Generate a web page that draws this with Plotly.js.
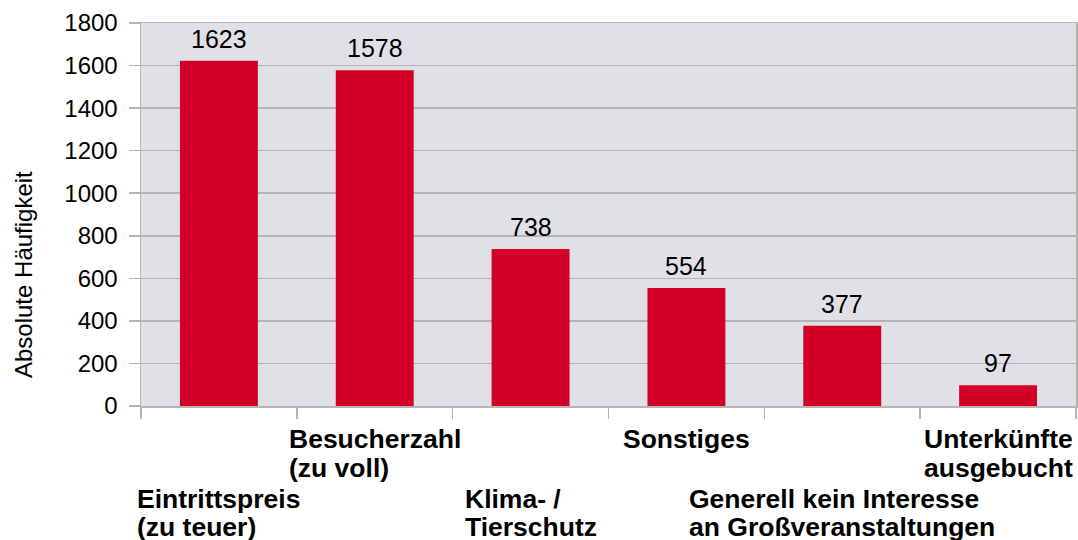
<!DOCTYPE html>
<html>
<head>
<meta charset="utf-8">
<script src="https://cdn.plot.ly/plotly-3.0.1.min.js"></script>
<style>html,body{margin:0;padding:0;background:#fff;}#chart{width:1078px;height:540px;}</style>
</head>
<body>
<div id="chart"></div>
<script>
const categories = [
  "Eintrittspreis (zu teuer)",
  "Besucherzahl (zu voll)",
  "Klima- / Tierschutz",
  "Sonstiges",
  "Generell kein Interesse an Großveranstaltungen",
  "Unterkünfte ausgebucht"
];
const categoryLines = [
  ["Eintrittspreis", "(zu teuer)"],
  ["Besucherzahl", "(zu voll)"],
  ["Klima- /", "Tierschutz"],
  ["Sonstiges"],
  ["Generell kein Interesse", "an Großveranstaltungen"],
  ["Unterkünfte", "ausgebucht"]
];
const values = [1623, 1578, 738, 554, 377, 97];
const labelRow = [1, 0, 1, 0, 1, 0]; // 0 = upper row, 1 = lower row
const yTickVals = [0, 200, 400, 600, 800, 1000, 1200, 1400, 1600, 1800];
const yTitle = "Absolute Häufigkeit";

const FONT = "Liberation Sans, Arial, sans-serif";
const gridColor = "#b4b4b4";
const catFontSize = 26.5;

const trace = {
  type: "bar",
  x: categories,
  y: values,
  width: 0.5,
  marker: {color: "#d20028", line: {width: 0}},
  hoverinfo: "none"
};

// measure text to left-align lines within a centred block
const cv = document.createElement("canvas").getContext("2d");
cv.font = "bold " + catFontSize + "px 'Liberation Sans', Arial, sans-serif";

const rowShifts = [[-17, -46], [-77, -105]];

const annotations = [];
values.forEach((v, i) => {
  annotations.push({
    x: categories[i], y: v, xref: "x", yref: "y",
    text: String(v), showarrow: false, yanchor: "bottom", yshift: 6,
    font: {family: FONT, size: 25, color: "#000"}
  });
});
categories.forEach((c, i) => {
  const lines = categoryLines[i];
  const blockW = Math.max(...lines.map(l => cv.measureText(l).width));
  lines.forEach((l, j) => {
    annotations.push({
      x: c, xref: "x", y: 0, yref: "paper",
      text: "<b>" + l + "</b>", showarrow: false,
      xanchor: "left", yanchor: "top",
      xshift: -blockW / 2 - 1,
      yshift: rowShifts[labelRow[i]][j],
      borderpad: 0,
      font: {family: FONT, size: catFontSize, color: "#000"}
    });
  });
});
annotations.push({
  x: 0, xref: "paper", xshift: -118, xanchor: "center",
  y: 0.342, yref: "paper", yanchor: "middle",
  text: yTitle, textangle: -90, showarrow: false,
  font: {family: FONT, size: 24, color: "#000"}
});

const layout = {
  width: 1078, height: 540,
  margin: {l: 141, r: 2, t: 23, b: 134, pad: 0},
  paper_bgcolor: "#ffffff",
  plot_bgcolor: "#e0e1e6",
  showlegend: false,
  font: {family: FONT, color: "#000"},
  xaxis: {
    type: "category",
    range: [-0.5, categories.length - 0.5],
    autorange: false,
    automargin: false,
    tickson: "boundaries",
    ticks: "outside", ticklen: 11, tickcolor: gridColor, tickwidth: 1.5,
    showticklabels: false,
    showgrid: false,
    showline: true, linecolor: gridColor, linewidth: 1.5, mirror: true,
    zeroline: false,
    fixedrange: true
  },
  yaxis: {
    range: [0, 1800],
    autorange: false,
    automargin: false,
    tickvals: yTickVals,
    ticks: "outside", ticklen: 11, tickcolor: gridColor, tickwidth: 1.5,
    tickfont: {family: FONT, size: 24, color: "#000"},
    ticklabelstandoff: 6,
    showgrid: true, gridcolor: gridColor, gridwidth: 1.5,
    showline: true, linecolor: gridColor, linewidth: 1.5, mirror: true,
    zeroline: false,
    fixedrange: true
  },
  annotations: annotations
};

Plotly.newPlot("chart", [trace], layout, {displayModeBar: false, staticPlot: true});
</script>
</body>
</html>
